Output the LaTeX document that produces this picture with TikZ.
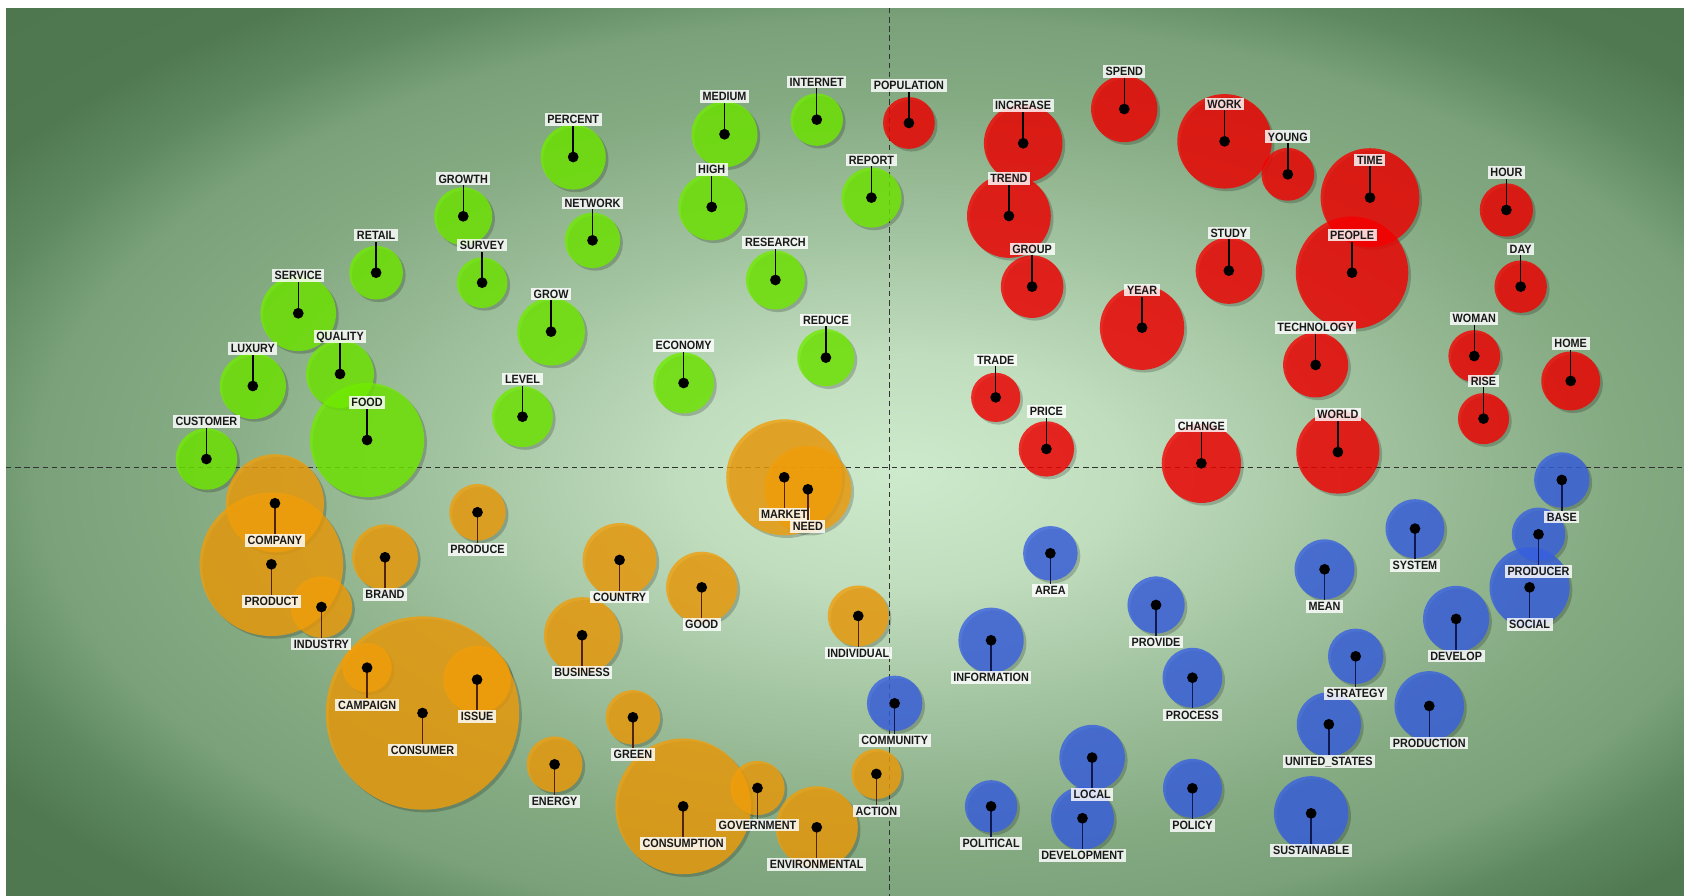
\documentclass[tikz,border=0pt]{standalone}
\usepackage{fontspec}
\newfontfamily\lblfont{Liberation Sans}[FakeStretch=0.9]

% background glow (the path's half-width corresponds to 25bp of the shading)
\definecolor{glowA}{RGB}{206,234,204}
\definecolor{glowB}{RGB}{192,221,190}
\definecolor{glowC}{RGB}{163,196,161}
\definecolor{glowD}{RGB}{132,170,130}
\definecolor{glowE}{RGB}{122,161,122}
\definecolor{glowF}{RGB}{95,138,97}
\definecolor{glowG}{RGB}{80,121,82}
\definecolor{glowH}{RGB}{76,117,78}
\pgfdeclareradialshading{glow}{\pgfpoint{0bp}{0bp}}{color(0bp)=(glowA); color(6.25bp)=(glowB); color(12.5bp)=(glowC); color(20bp)=(glowD); color(24bp)=(glowE); color(27bp)=(glowF); color(30bp)=(glowG); color(40bp)=(glowH)}

% cluster colours
\definecolor{cG}{RGB}{112,235,0}
\definecolor{cR}{RGB}{245,0,0}
\definecolor{cO}{RGB}{240,158,10}
\definecolor{cB}{RGB}{56,96,225}
\definecolor{axisgrey}{RGB}{50,50,50}
\definecolor{leadbrown}{RGB}{80,35,10}
\definecolor{leadnavy}{RGB}{15,25,80}

\pgfdeclarelayer{back}
\pgfdeclarelayer{shade}
\pgfdeclarelayer{disc}
\pgfsetlayers{back,shade,disc,main}

\tikzset{
  halo/.style={fill=black, fill opacity=0.2},
  discG/.style={fill=cG, fill opacity=0.8},
  discR/.style={fill=cR, fill opacity=0.8},
  discO/.style={fill=cO, fill opacity=0.8},
  discB/.style={fill=cB, fill opacity=0.8},
  leadG/.style={draw=black, line width=1.3pt},
  leadR/.style={draw=black, line width=1.3pt},
  leadO/.style={draw=leadbrown, line width=1.3pt},
  leadB/.style={draw=leadnavy, line width=1.3pt},
  pin/.style={fill=black},
  tag/.style={fill=white, fill opacity=0.82, text opacity=1, text={rgb,255:red,25;green,25;blue,25},
    inner xsep=2.4pt, inner ysep=1.8pt, text height=8pt, text depth=0pt,
    font=\lblfont\bfseries\fontsize{11.2}{12}\selectfont},
  axisline/.style={draw=axisgrey, line width=1pt, dash pattern=on 5pt off 3.5pt}
}

% name, x, y, radius, cluster, text, label shift
\newcommand\bubble[7]{%
  \coordinate (#1) at (#2,#3);
  \begin{pgfonlayer}{shade}
    \fill[halo] ([shift={(2.5,2.5)}]#1) circle[radius=#4pt];
  \end{pgfonlayer}
  \begin{pgfonlayer}{disc}
    \fill[disc#5] (#1) circle[radius=#4pt];
  \end{pgfonlayer}
  \node[tag, yshift=#7pt] (#1-t) at (#1) {#6};
  \draw[lead#5] (#1) -- (#1-t);
  \fill[pin] (#1) circle[radius=5pt];
}

\begin{document}
\begin{tikzpicture}[x=1pt, y=-1pt]
\useasboundingbox (0,0) rectangle (1568,834);
\begin{pgfonlayer}{back}
  \fill[white] (0,0) rectangle (1568,834);
  \begin{scope}
    \clip (5.6,7.5) rectangle (1568,834);
    \shade[shading=glow] (0,0) rectangle (1680,880);
  \end{scope}
  \coordinate (vtop) at (828.5,7.5);
  \coordinate (vbot) at (828.5,834);
  \coordinate (hleft) at (5.6,435.5);
  \coordinate (hright) at (1568,435.5);
  \draw[axisline] (vtop) -- (vbot);
  \draw[axisline] (hleft) -- (hright);
\end{pgfonlayer}

% green cluster
\bubble{percent}{533.7}{146.2}{30.3}{G}{PERCENT}{35}
\bubble{medium}{674.6}{125}{30.7}{G}{MEDIUM}{35}
\bubble{internet}{760.5}{111.4}{24.4}{G}{INTERNET}{35}
\bubble{high}{662.7}{192.7}{31.1}{G}{HIGH}{35}
\bubble{growth}{431.3}{201.4}{27}{G}{GROWTH}{35}
\bubble{network}{551.7}{223.8}{25.8}{G}{NETWORK}{35}
\bubble{report}{811.4}{184}{27.9}{G}{REPORT}{35}
\bubble{retail}{350.2}{253.9}{25}{G}{RETAIL}{35}
\bubble{survey}{448.9}{263.2}{23.6}{G}{SURVEY}{35}
\bubble{research}{722}{260.7}{27.4}{G}{RESEARCH}{35}
\bubble{service}{277.7}{291.7}{35.2}{G}{SERVICE}{35}
\bubble{grow}{513.1}{308.8}{31.5}{G}{GROW}{35}
\bubble{reduce}{769}{333}{26.6}{G}{REDUCE}{35}
\bubble{luxury}{235.4}{359.4}{30.8}{G}{LUXURY}{35}
\bubble{quality}{316.6}{348.2}{31.6}{G}{QUALITY}{35}
\bubble{economy}{636.5}{356.6}{28.3}{G}{ECONOMY}{35}
\bubble{level}{486.5}{388}{28.3}{G}{LEVEL}{35}
\bubble{food}{341.8}{409.7}{53.2}{G}{FOOD}{35}
\bubble{customer}{192.2}{427.4}{28.6}{G}{CUSTOMER}{35}

% red cluster
\bubble{population}{846.3}{114.5}{24.1}{R}{POPULATION}{35}
\bubble{increase}{952.7}{133.4}{36.6}{R}{INCREASE}{35}
\bubble{spend}{1046.8}{101.5}{30.9}{R}{SPEND}{35}
\bubble{work}{1140.2}{131.6}{44}{R}{WORK}{35}
\bubble{young}{1199.1}{162.3}{24.6}{R}{YOUNG}{35}
\bubble{time}{1275.6}{184}{46}{R}{TIME}{35}
\bubble{hour}{1402.6}{195.5}{24.8}{R}{HOUR}{35}
\bubble{trend}{939.4}{201.1}{39}{R}{TREND}{35}
\bubble{group}{961}{266.9}{29.1}{R}{GROUP}{35}
\bubble{study}{1144.2}{252}{30.9}{R}{STUDY}{35}
\bubble{people}{1258.9}{253.9}{52.4}{R}{PEOPLE}{35}
\bubble{day}{1415.9}{266.9}{24.4}{R}{DAY}{35}
\bubble{year}{1063.4}{305.1}{39.3}{R}{YEAR}{35}
\bubble{technology}{1225}{339.8}{30.3}{R}{TECHNOLOGY}{35}
\bubble{woman}{1372.7}{331.5}{24.1}{R}{WOMAN}{35}
\bubble{home}{1462.5}{354.7}{27.4}{R}{HOME}{35}
\bubble{trade}{927.1}{370}{22.9}{R}{TRADE}{35}
\bubble{rise}{1381.3}{389.8}{23.8}{R}{RISE}{35}
\bubble{price}{974.3}{418}{25.8}{R}{PRICE}{35}
\bubble{change}{1118.6}{431.4}{36.9}{R}{CHANGE}{35}
\bubble{world}{1245.7}{420.9}{38.7}{R}{WORLD}{35}

% orange cluster
\bubble{market}{730.2}{444.4}{54}{O}{MARKET}{-34.5}
\bubble{need}{752.2}{455.6}{40.5}{O}{NEED}{-34.5}
\bubble{company}{256}{468.6}{45.7}{O}{COMPANY}{-34.5}
\bubble{produce}{444.6}{477}{26.3}{O}{PRODUCE}{-34.5}
\bubble{product}{252.7}{525.4}{66.8}{O}{PRODUCT}{-34.5}
\bubble{brand}{358.5}{518.9}{30.6}{O}{BRAND}{-34.5}
\bubble{country}{576.9}{521.4}{34.4}{O}{COUNTRY}{-34.5}
\bubble{good}{653.4}{546.9}{33.2}{O}{GOOD}{-34.5}
\bubble{industry}{299.3}{565.2}{28.6}{O}{INDUSTRY}{-34.5}
\bubble{individual}{799.1}{573.5}{28.3}{O}{INDIVIDUAL}{-34.5}
\bubble{business}{542}{591.5}{35.5}{O}{BUSINESS}{-34.5}
\bubble{campaign}{341.8}{621.7}{23}{O}{CAMPAIGN}{-34.5}
\bubble{issue}{444.2}{632.8}{31.4}{O}{ISSUE}{-34.5}
\bubble{consumer}{393.4}{663.9}{90}{O}{CONSUMER}{-34.5}
\bubble{green}{589.3}{667.9}{25.4}{O}{GREEN}{-34.5}
\bubble{energy}{516.4}{711.7}{26}{O}{ENERGY}{-34.5}
\bubble{consumption}{636.1}{750.8}{63.2}{O}{CONSUMPTION}{-34.5}
\bubble{government}{705.3}{733.7}{25.3}{O}{GOVERNMENT}{-34.5}
\bubble{environmental}{760.5}{770.3}{38.2}{O}{ENVIRONMENTAL}{-34.5}
\bubble{action}{816}{720.6}{23.3}{O}{ACTION}{-34.5}

% blue cluster
\bubble{base}{1454.2}{446.9}{25.8}{B}{BASE}{-34.5}
\bubble{system}{1317.5}{492.2}{27.4}{B}{SYSTEM}{-34.5}
\bubble{producer}{1432.5}{497.5}{24.9}{B}{PRODUCER}{-34.5}
\bubble{area}{978}{515.2}{25.4}{B}{AREA}{-34.5}
\bubble{mean}{1233.3}{530.1}{27.9}{B}{MEAN}{-34.5}
\bubble{social}{1424.2}{546.9}{37.3}{B}{SOCIAL}{-34.5}
\bubble{provide}{1076.4}{563.3}{26.6}{B}{PROVIDE}{-34.5}
\bubble{develop}{1355.8}{576.3}{30.8}{B}{DEVELOP}{-34.5}
\bubble{information}{922.8}{596.2}{30.4}{B}{INFORMATION}{-34.5}
\bubble{strategy}{1262.3}{611.1}{25.8}{B}{STRATEGY}{-34.5}
\bubble{process}{1110.3}{631}{27.8}{B}{PROCESS}{-34.5}
\bubble{community}{833}{654.9}{25.8}{B}{COMMUNITY}{-34.5}
\bubble{production}{1330.8}{657.3}{32.4}{B}{PRODUCTION}{-34.5}
\bubble{unitedstates}{1237.3}{674.4}{29.9}{B}{UNITED\_STATES}{-34.5}
\bubble{local}{1016.9}{705.4}{30.5}{B}{LOCAL}{-34.5}
\bubble{policy}{1110.3}{734}{27.4}{B}{POLICY}{-34.5}
\bubble{political}{922.8}{750.8}{24.4}{B}{POLITICAL}{-34.5}
\bubble{development}{1007.9}{761.9}{29.3}{B}{DEVELOPMENT}{-34.5}
\bubble{sustainable}{1220.8}{757.3}{34.6}{B}{SUSTAINABLE}{-34.5}
\end{tikzpicture}
\end{document}
